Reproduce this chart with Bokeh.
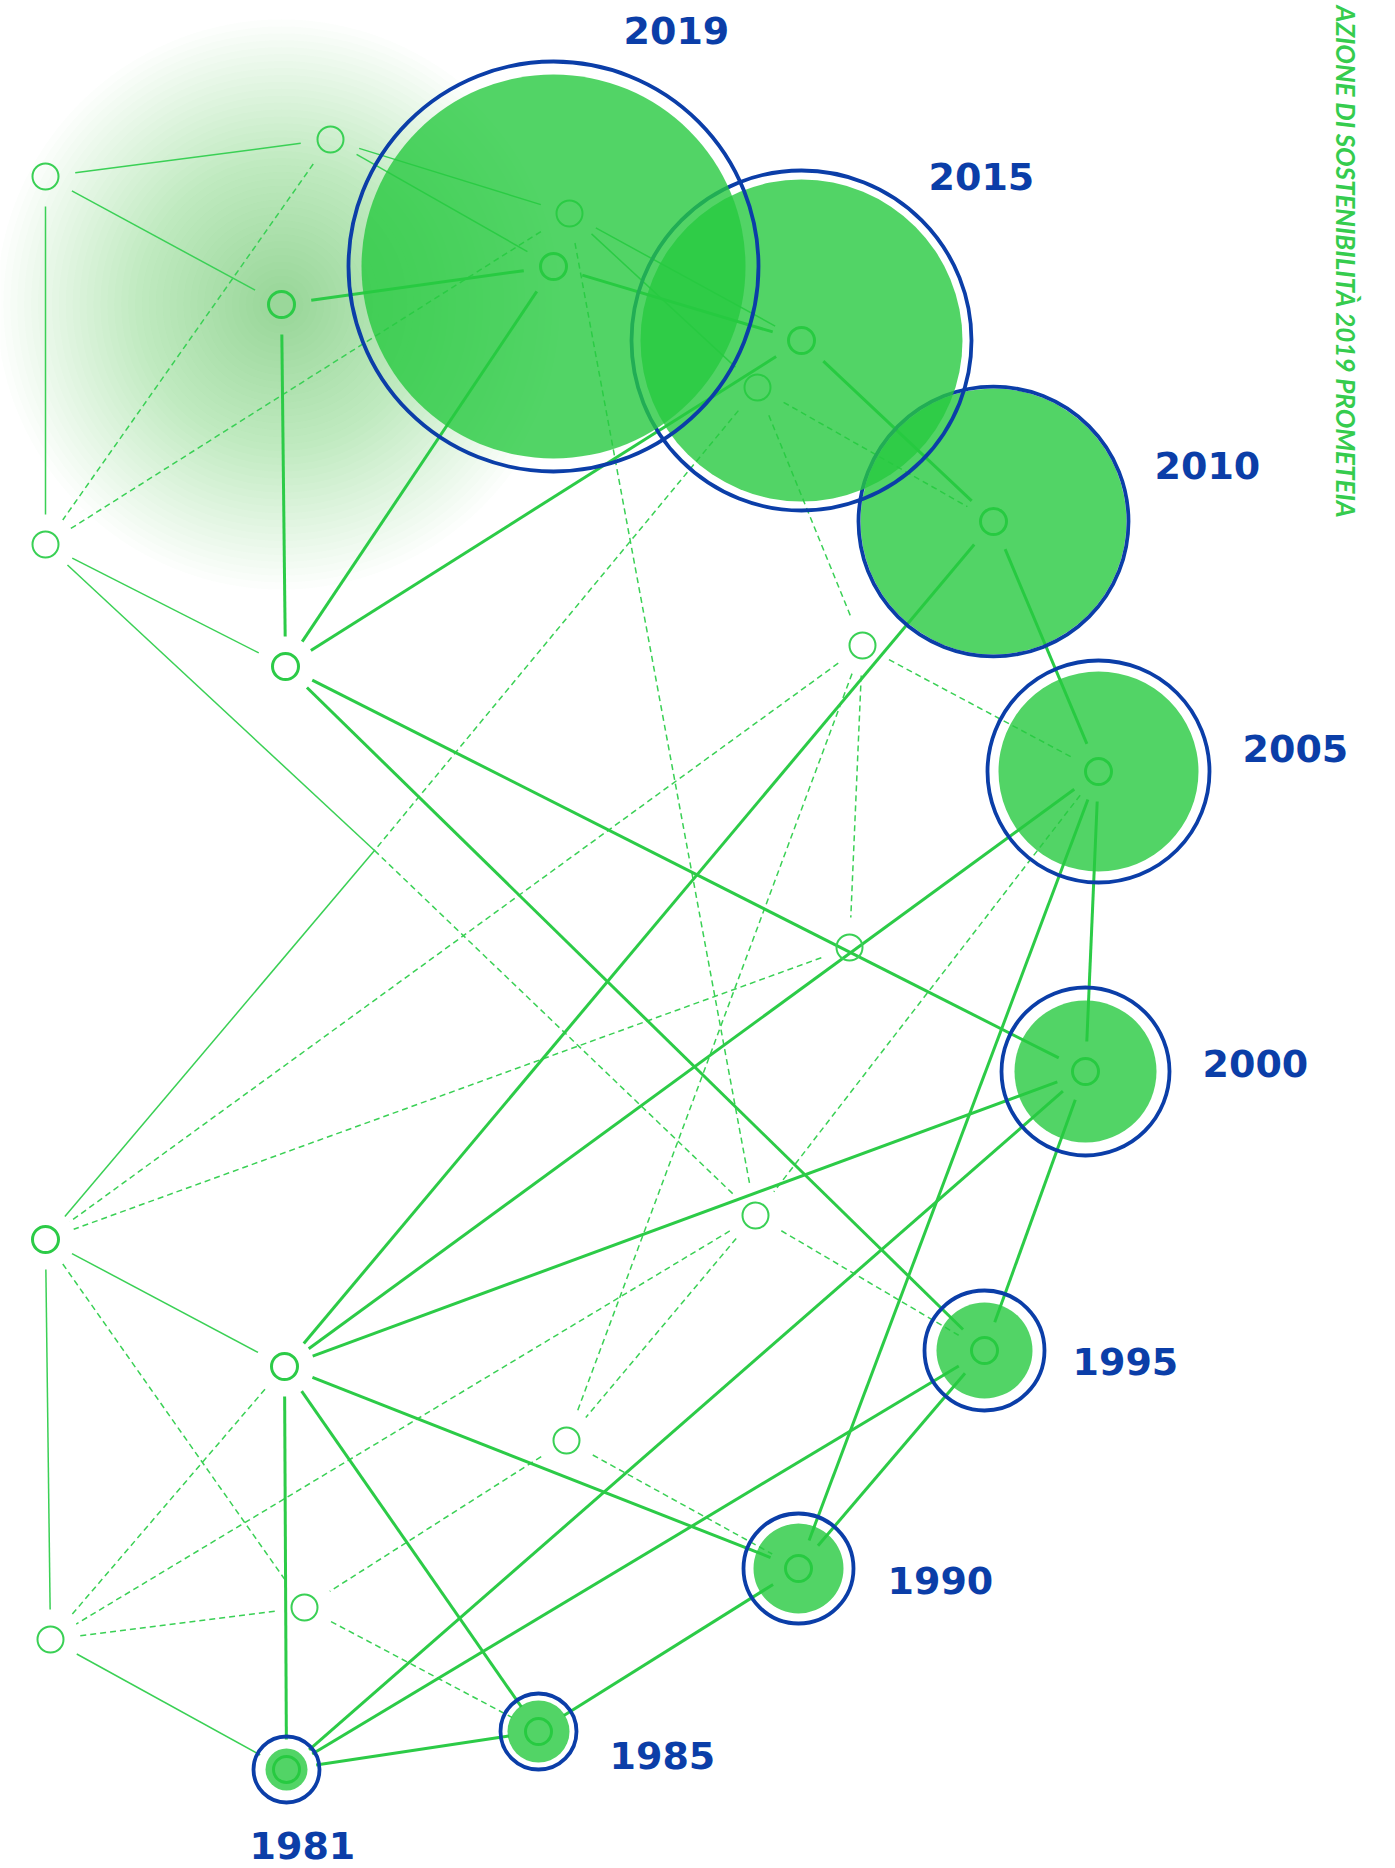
import numpy as np
from bokeh.plotting import figure
from bokeh.models import ColumnDataSource, Range1d
from bokeh.embed import file_html
from bokeh.resources import INLINE
from bokeh.core.properties import value

# ---------------- data ----------------
node_ids = ["A", "B", "C", "D", "E", "F", "G", "H", "I", "J", "K", "L", "M",
            "N", "O", "P", "Q", "R", "S", "T", "U", "V", "W", "X", "Z"]
node_x = [45, 330, 281, 45, 285, 569, 553, 801, 757, 993, 862, 1098, 849,
          1085, 45, 755, 284, 984, 566, 798, 304, 50, 538, 286, 374]
node_y = [176, 139, 304, 544, 666, 213, 266, 340, 387, 521, 645, 771, 947,
          1071, 1239, 1215, 1366, 1350, 1440, 1568, 1607, 1639, 1731, 1769, 850]
bold_nodes = ["C", "E", "O", "Q"]
hidden_nodes = ["Z"]
glow_node = "C"

years = ["1981", "1985", "1990", "1995", "2000", "2005", "2010", "2015", "2019"]
year_nodes = ["X", "W", "T", "R", "N", "L", "J", "H", "G"]
fill_radius = [21, 31, 45, 48, 71, 100, 133, 161, 192]
ring_radius = [33, 38, 55, 60, 84, 111, 135, 170, 205]
label_x = [249, 609, 887, 1072, 1202, 1242, 1154, 928, 623]
label_y = [1845, 1755, 1580, 1361, 1063, 748, 465, 176, 30]

thick_edges = [("C", "G"), ("C", "E"), ("E", "G"), ("E", "H"), ("E", "N"), ("E", "R"),
               ("G", "H"), ("H", "J"), ("J", "L"), ("J", "Q"), ("L", "N"), ("L", "Q"),
               ("L", "T"), ("N", "Q"), ("N", "X"), ("N", "R"), ("Q", "X"), ("Q", "T"),
               ("Q", "W"), ("R", "T"), ("R", "X"), ("T", "W"), ("W", "X")]
thin_edges = [("A", "B"), ("A", "C"), ("A", "D"), ("B", "F"), ("B", "G"), ("F", "H"),
              ("F", "I"), ("D", "E"), ("D", "Z"), ("O", "Z"), ("O", "Q"), ("O", "V"),
              ("V", "X")]
dashed_edges = [("B", "D"), ("D", "F"), ("F", "P"), ("I", "J"), ("I", "K"), ("I", "Z"),
                ("Z", "P"), ("K", "L"), ("K", "M"), ("K", "O"), ("K", "S"), ("L", "P"),
                ("M", "O"), ("P", "R"), ("P", "S"), ("P", "V"), ("S", "T"), ("S", "U"),
                ("O", "U"), ("Q", "V"), ("U", "V"), ("U", "W")]

side_text = "AZIONE DI SOSTENIBILITÀ 2019 PROMETEIA"

# ---------------- style ----------------
GREEN = "#2ccb47"
GREEN_LIGHT = "#3ad055"
FILL = "#27c940"
NAVY = "#0b3ea8"
GAP = 30
NODE_R = 13

pos = {n: (x, y) for n, x, y in zip(node_ids, node_x, node_y)}


def seg_source(edges):
    x0, y0, x1, y1 = [], [], [], []
    for a, b in edges:
        ax, ay = pos[a]
        bx, by = pos[b]
        dx, dy = bx - ax, by - ay
        length = (dx * dx + dy * dy) ** 0.5
        ux, uy = dx / length, dy / length
        ga = 0 if a in hidden_nodes else GAP
        gb = 0 if b in hidden_nodes else GAP
        x0.append(ax + ux * ga)
        y0.append(ay + uy * ga)
        x1.append(bx - ux * gb)
        y1.append(by - uy * gb)
    return ColumnDataSource(dict(x0=x0, y0=y0, x1=x1, y1=y1))


p = figure(width=1395, height=1868, x_range=Range1d(0, 1395), y_range=Range1d(1868, 0),
           output_backend="svg", toolbar_location=None, min_border=0,
           x_axis_location=None, y_axis_location=None)
p.grid.visible = False
p.outline_line_color = None
p.background_fill_color = "white"
p.border_fill_color = "white"

# soft glow
gx, gy = pos[glow_node]
glow_r = np.linspace(285, 15, 40)
p.circle(x=[gx] * len(glow_r), y=[gy] * len(glow_r), radius=glow_r,
         fill_color="#34d650", fill_alpha=0.014, line_color=None)

# edges
p.segment(x0="x0", y0="y0", x1="x1", y1="y1", source=seg_source(dashed_edges),
          line_color=GREEN_LIGHT, line_width=1.5, line_dash="6 4")
p.segment(x0="x0", y0="y0", x1="x1", y1="y1", source=seg_source(thin_edges),
          line_color=GREEN_LIGHT, line_width=1.5)
p.segment(x0="x0", y0="y0", x1="x1", y1="y1", source=seg_source(thick_edges),
          line_color=GREEN, line_width=3)

# small nodes
thin_n = [n for n in node_ids if n not in bold_nodes and n not in year_nodes and n not in hidden_nodes]
bold_n = [n for n in node_ids if n in bold_nodes or n in year_nodes]
p.circle(x=[pos[n][0] for n in thin_n], y=[pos[n][1] for n in thin_n], radius=NODE_R,
         fill_color=None, line_color=GREEN_LIGHT, line_width=2)
p.circle(x=[pos[n][0] for n in bold_n], y=[pos[n][1] for n in bold_n], radius=NODE_R,
         fill_color=None, line_color=GREEN, line_width=3)

# year bubbles (older first, newer on top)
for yr, n, fr, rr in zip(years, year_nodes, fill_radius, ring_radius):
    cx, cy = pos[n]
    p.circle(x=[cx], y=[cy], radius=fr, fill_color=FILL, fill_alpha=0.8, line_color=None)
    p.circle(x=[cx], y=[cy], radius=rr, fill_color=None, line_color=NAVY, line_width=3.8)

# year labels
p.text(x=label_x, y=label_y, text=years, text_font=value("DejaVu Sans"),
       text_font_style="bold", text_font_size="38px", text_color=NAVY,
       text_align="left", text_baseline="alphabetic")

# vertical side text
p.text(x=[1345], y=[518], text=[side_text], angle=-np.pi / 2,
       text_font=value("Lato"), text_font_style="bold italic", text_font_size="26px",
       text_color="#35cc4e", text_align="right", text_baseline="middle")

open("out.html", "w").write(file_html(p, INLINE))
